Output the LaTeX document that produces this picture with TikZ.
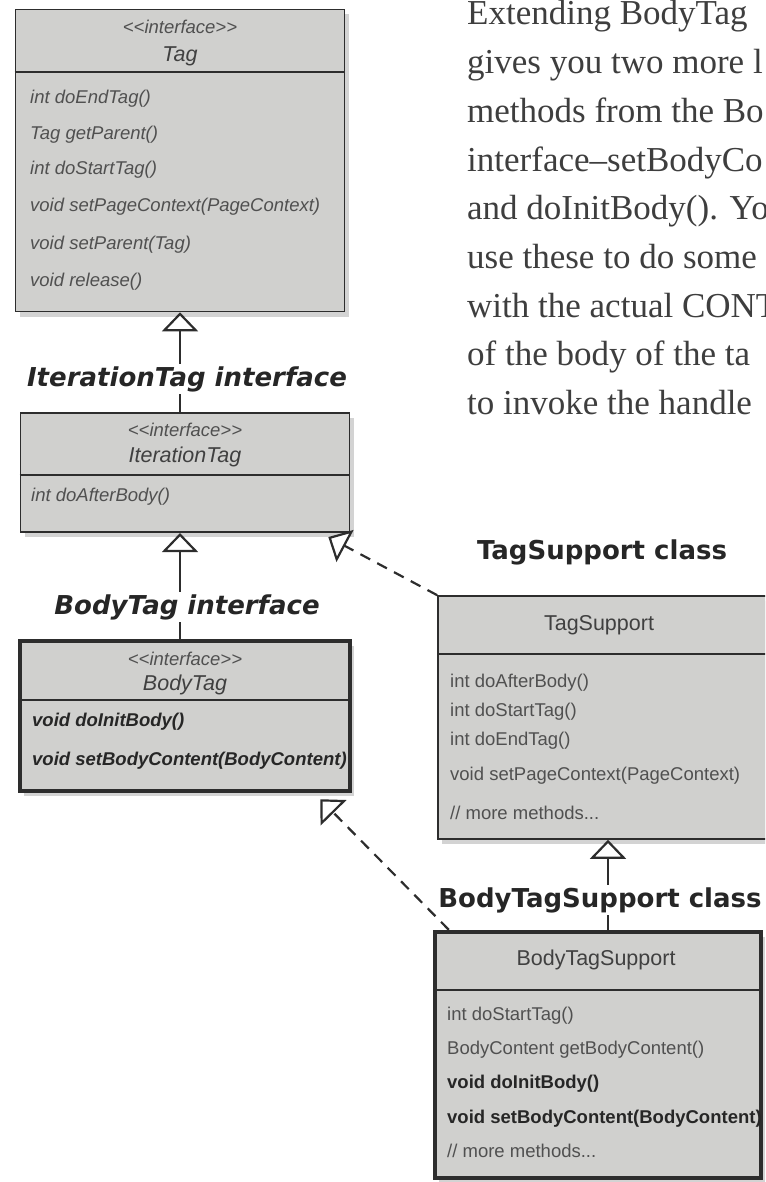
\documentclass[tikz,border=0pt]{standalone}
\usepackage{fontspec}
\setmainfont{Liberation Serif}
\newfontfamily\umlfont{Liberation Sans}
\newfontfamily\tagfont{DejaVu Sans}
\usetikzlibrary{arrows.meta,shadows}

\definecolor{boxgray}{RGB}{208,208,206}
\definecolor{boxline}{RGB}{45,45,45}
\definecolor{membergray}{RGB}{80,80,80}
\definecolor{notegray}{RGB}{62,62,62}

\newcommand{\stereotype}{<\kern0pt<interface>\kern0pt>}

\tikzset{
  umlbox/.style={draw=boxline, fill=boxgray, line width=1.6pt, inner sep=0pt,
    drop shadow={shadow xshift=4pt, shadow yshift=-5pt, opacity=0.35}},
  heavybox/.style={umlbox, line width=4.5pt},
  sepline/.style={boxline, line width=1.4pt},
  stereo/.style={font=\umlfont\fontsize{18.5}{19}\selectfont\itshape, text=membergray, inner sep=0pt},
  ifname/.style={font=\umlfont\fontsize{21.5}{22}\selectfont\itshape, text=black!75, inner sep=0pt},
  clname/.style={font=\umlfont\fontsize{21.5}{22}\selectfont, text=black!75, inner sep=0pt},
  member/.style={anchor=west, font=\umlfont\fontsize{18.5}{20}\selectfont, text=membergray,
    inner sep=0pt, text height=13.5pt, text depth=4pt},
  imember/.style={member, font=\umlfont\fontsize{18.5}{20}\selectfont\itshape},
  bmember/.style={member, font=\umlfont\fontsize{18.5}{20}\selectfont\bfseries, text=black!85},
  bimember/.style={member, font=\umlfont\fontsize{18.5}{20}\selectfont\bfseries\itshape, text=black!85},
  ilabel/.style={fill=white, inner sep=2pt, font=\tagfont\fontsize{26}{28}\selectfont\bfseries\itshape, text=black!85},
  clabel/.style={ilabel, font=\tagfont\fontsize{26}{28}\selectfont\bfseries},
  inherit/.style={draw=boxline, line width=2.2pt, -{Triangle[width=36pt, length=19pt, fill=white]}},
  realize/.style={inherit, dash pattern=on 11pt off 8pt},
  noteline/.style={anchor=base west, font=\fontsize{35}{40}\selectfont, text=notegray, inner sep=0pt}
}

\begin{document}
\begin{tikzpicture}[x=1pt,y=1pt]
\useasboundingbox (0,0) rectangle (765,-1182);
\clip (0,0) rectangle (765,-1182);
% boxes
\node[umlbox, minimum width=329, minimum height=302] (tag) at (180,-160.5) {};
\node[umlbox, minimum width=329, minimum height=119.5] (iter) at (185,-472.5) {};
\node[heavybox, minimum width=330, minimum height=150] (body) at (185,-716) {};
\node[umlbox, minimum width=329, minimum height=243] (ts) at (602.5,-717.5) {};
\node[heavybox, minimum width=326, minimum height=246] (bts) at (598,-1055) {};
\draw[sepline] (tag.west |- 0,-72) -- (tag.east |- 0,-72);
\draw[sepline] (iter.west |- 0,-475) -- (iter.east |- 0,-475);
\draw[sepline] (body.west |- 0,-700) -- (body.east |- 0,-700);
\draw[sepline] (ts.west |- 0,-654) -- (ts.east |- 0,-654);
\draw[sepline] (bts.west |- 0,-990) -- (bts.east |- 0,-990);
% Tag
\node[stereo] (tagSt) at (180,-27) {\stereotype};
\node[ifname] (tagNm) at (180,-56) {Tag};
\node[imember] (tagM1) at (30,-99) {int doEndTag()};
\node[imember] (tagM2) at (30,-135) {Tag getParent()};
\node[imember] (tagM3) at (30,-170) {int doStartTag()};
\node[imember] (tagM4) at (30,-207) {void setPageContext(PageContext)};
\node[imember] (tagM5) at (30,-245) {void setParent(Tag)};
\node[imember] (tagM6) at (30,-282) {void release()};
% IterationTag
\node[stereo] (iterSt) at (185,-430) {\stereotype};
\node[ifname] (iterNm) at (185,-457) {IterationTag};
\node[imember] (iterM1) at (31,-497) {int doAfterBody()};
% BodyTag
\node[stereo] (bodySt) at (185,-659) {\stereotype};
\node[ifname] (bodyNm) at (185,-685) {BodyTag};
\node[bimember] (bodyM1) at (32,-722) {void doInitBody()};
\node[bimember] (bodyM2) at (32,-761) {void setBodyContent(BodyContent)};
% TagSupport
\node[clname] (tsNm) at (599,-625) {TagSupport};
\node[member] (tsM1) at (450,-683) {int doAfterBody()};
\node[member] (tsM2) at (450,-712) {int doStartTag()};
\node[member] (tsM3) at (450,-741) {int doEndTag()};
\node[member] (tsM4) at (450,-776) {void setPageContext(PageContext)};
\node[member] (tsM5) at (450,-815) {// more methods...};
% BodyTagSupport
\node[clname] (btsNm) at (596,-960) {BodyTagSupport};
\node[member] (btsM1) at (447,-1016) {int doStartTag()};
\node[member] (btsM2) at (447,-1050) {BodyContent getBodyContent()};
\node[bmember] (btsM3) at (447,-1084) {void doInitBody()};
\node[bmember] (btsM4) at (447,-1119) {void setBodyContent(BodyContent)};
\node[member] (btsM5) at (447,-1153) {// more methods...};
% connectors
\coordinate (iterTip) at ([xshift=-22pt,yshift=-4pt]iter.south east);
\coordinate (bodyTip) at ([xshift=-32pt,yshift=-6pt]body.south east);
\coordinate (btsFoot) at ([xshift=16pt]bts.north west);
\draw[inherit] (tag.south |- iter.north) -- (tag.south);
\draw[inherit] (tag.south |- body.north) -- (tag.south |- iter.south);
\draw[inherit] ([xshift=10pt]bts.north) -- ([xshift=10pt]bts.north |- ts.south);
\draw[realize] (ts.north west) -- (iterTip);
\draw[realize] (btsFoot) -- (bodyTip);
% labels
\node[ilabel] (iterLbl) at (187,-379) {IterationTag interface};
\node[ilabel] (bodyLbl) at (187,-607) {BodyTag interface};
\node[clabel] (tsLbl) at (602,-552) {TagSupport class};
\node[clabel] (btsLbl) at (600,-900) {BodyTagSupport class};
% note
\node[noteline] (l1) at (467,-25) {Extending BodyTag};
\node[noteline] (l2) at (467,-73.7) {gives you two more l};
\node[noteline] (l3) at (467,-122.4) {methods from the Bo};
\node[noteline] (l4) at (467,-171.1) {interface–setBodyCo};
\node[noteline] (l5) at (467,-219.8) {and doInitBody(). Yo};
\node[noteline] (l6) at (467,-268.5) {use these to do some};
\node[noteline] (l7) at (467,-317.2) {with the actual CONT};
\node[noteline] (l8) at (467,-365.9) {of the body of the ta};
\node[noteline] (l9) at (467,-414.6) {to invoke the handle};
\end{tikzpicture}
\end{document}
